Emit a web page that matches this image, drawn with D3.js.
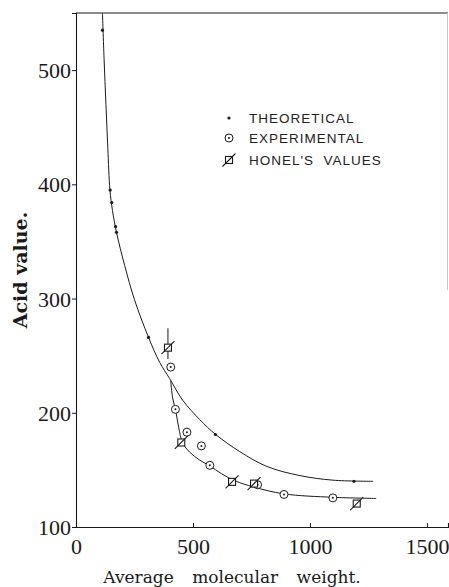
<!DOCTYPE html>
<html>
<head>
<meta charset="utf-8">
<script src="https://cdn.jsdelivr.net/npm/d3@7"></script>
<style>
  html, body { margin: 0; padding: 0; background: #fff; }
  svg { display: block; }
</style>
</head>
<body>
<svg id="chart" width="449" height="587"></svg>
<script>
// ---- data ----
const xTicks = [0, 500, 1000, 1500];
const yTicks = [100, 200, 300, 400, 500];

// smooth curve through theoretical values
const upperCurveX = [113, 120, 128, 136, 145, 156, 173, 208, 250, 310, 358, 400, 456, 529, 597, 700, 816, 957, 1098, 1270];
const upperCurveY = [550, 510, 470, 432, 395, 377, 358, 329, 299, 266, 244, 230, 211, 194, 181, 166, 153, 145, 141, 140];

// smooth curve through experimental values
const lowerCurveX = [405, 413, 426, 439, 456, 486, 529, 572, 623, 679, 760, 889, 1099, 1283];
const lowerCurveY = [228, 213, 202, 187, 173.5, 165.5, 158.5, 153.5, 146.5, 140.5, 135, 129, 126, 125];

// theoretical points
const theoX = [113, 146, 153, 169, 173, 310, 596, 1188];
const theoY = [535, 395, 384, 363, 358, 266, 181, 140];

// experimental points
const expX = [405, 425, 474, 536, 572, 776, 889, 1098];
const expY = [240, 203, 183, 171, 154, 137, 128.5, 125.5];

// Honel's values
const honelX = [393, 450, 667, 761, 1200];
const honelY = [257, 174, 139.5, 138, 120.5];
const honelRangeX = 393;
const honelRange = [247, 274];

const legendLabels = ["THEORETICAL", "EXPERIMENTAL", "HONEL'S  VALUES"];

// ---- layout ----
const svg = d3.select("#chart");
const mLeft = 76, mRight = 448, mTop = 13, mBottom = 527;
const x = d3.scaleLinear().domain([0, 1590]).range([mLeft, mRight]);
const y = d3.scaleLinear().domain([100, 550]).range([mBottom, mTop]);

const ink = "#1a1a1a";
const serif = "'DejaVu Serif', 'Liberation Serif', serif";

// frame
svg.append("line").attr("x1", mLeft).attr("x2", mRight).attr("y1", mTop).attr("y2", mTop)
  .attr("stroke", ink).attr("stroke-width", 1.2);
svg.append("line").attr("x1", mRight - 0.5).attr("x2", mRight - 0.5).attr("y1", mTop).attr("y2", 290)
  .attr("stroke", "#c8c8c8").attr("stroke-width", 1);

// axes
const yAxis = d3.axisLeft(y).tickValues(yTicks).tickSize(4).tickPadding(1).tickFormat(d3.format("d"));
const gy = svg.append("g").attr("transform", `translate(${mLeft},0)`).call(yAxis);
gy.select(".domain").attr("stroke", ink).attr("stroke-width", 1.1);
gy.selectAll(".tick line").attr("stroke", ink);
gy.selectAll(".tick text").attr("font-family", "'Liberation Serif', 'DejaVu Serif', serif")
  .attr("font-size", 22).attr("fill", ink).attr("dy", "0.34em");

const xAxis = d3.axisBottom(x).tickValues(xTicks).tickSize(-4).tickPadding(11).tickFormat(d3.format("d"));
const gx = svg.append("g").attr("transform", `translate(0,${mBottom})`).call(xAxis);
gx.select(".domain").attr("stroke", ink).attr("stroke-width", 1.1);
gx.selectAll(".tick line").attr("stroke", ink);
gx.selectAll(".tick text").attr("font-family", "'Liberation Serif', 'DejaVu Serif', serif")
  .attr("font-size", 22).attr("fill", ink);

// axis titles
svg.append("text")
  .attr("transform", `translate(27,270) rotate(-90)`)
  .attr("text-anchor", "middle")
  .attr("font-family", serif)
  .attr("font-weight", "bold").attr("font-size", 19).attr("fill", ink)
  .text("Acid value.");

svg.append("text")
  .attr("x", 232).attr("y", 583)
  .attr("text-anchor", "middle")
  .attr("font-family", serif)
  .attr("font-size", 17).attr("fill", ink)
  .attr("word-spacing", 13)
  .text("Average molecular weight.");

// curves
const line = d3.line().x(d => x(d[0])).y(d => y(d[1])).curve(d3.curveCatmullRom.alpha(0.5));
svg.append("path").datum(upperCurveX.map((v, i) => [v, upperCurveY[i]]))
  .attr("d", line).attr("fill", "none").attr("stroke", ink).attr("stroke-width", 1);
svg.append("path").datum(lowerCurveX.map((v, i) => [v, lowerCurveY[i]]))
  .attr("d", line).attr("fill", "none").attr("stroke", ink).attr("stroke-width", 1);

// Honel's range line
svg.append("line").attr("x1", x(honelRangeX)).attr("x2", x(honelRangeX))
  .attr("y1", y(honelRange[1])).attr("y2", y(honelRange[0]))
  .attr("stroke", ink).attr("stroke-width", 1);

// markers
function dotMark(g) {
  g.append("circle").attr("r", 1.6).attr("fill", ink);
}
function expMark(g) {
  g.append("circle").attr("r", 4).attr("fill", "#fff").attr("stroke", ink).attr("stroke-width", 1);
  g.append("circle").attr("r", 1).attr("fill", ink);
}
function honelMark(g) {
  g.append("rect").attr("x", -3.5).attr("y", -3.5).attr("width", 7).attr("height", 7)
    .attr("fill", "#fff").attr("stroke", ink).attr("stroke-width", 1.1);
  g.append("line").attr("x1", -6.5).attr("y1", 6.5).attr("x2", 6.5).attr("y2", -6.5)
    .attr("stroke", ink).attr("stroke-width", 1.1);
}

theoX.forEach((v, i) => {
  const g = svg.append("g").attr("transform", `translate(${x(v)},${y(theoY[i])})`);
  dotMark(g);
});
expX.forEach((v, i) => {
  const g = svg.append("g").attr("transform", `translate(${x(v)},${y(expY[i])})`);
  expMark(g);
});
honelX.forEach((v, i) => {
  const g = svg.append("g").attr("transform", `translate(${x(v)},${y(honelY[i])})`);
  honelMark(g);
});

// legend
const legendY = [118, 138, 160];
const markFns = [dotMark, expMark, honelMark];
legendLabels.forEach((lab, i) => {
  const g = svg.append("g").attr("transform", `translate(229,${legendY[i]})`);
  markFns[i](g);
  svg.append("text")
    .attr("x", 249).attr("y", legendY[i] + 5)
    .attr("font-family", "'Liberation Sans', Arial, sans-serif")
    .attr("font-size", 13.5).attr("fill", "#222")
    .attr("letter-spacing", 1)
    .attr("style", "white-space: pre")
    .text(lab);
});
</script>
</body>
</html>
